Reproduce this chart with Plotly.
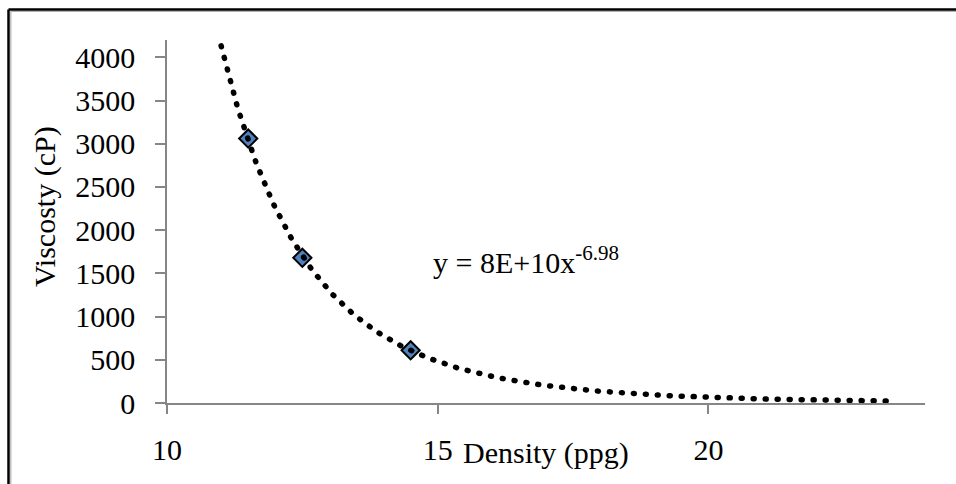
import numpy as np
import plotly.graph_objects as go

# ---- data ----
density = [11.5, 12.5, 14.5]          # ppg
viscosity = [3060, 1680, 610]         # cP
trend_start, trend_end = 11.0, 23.35  # extent of the trendline (ppg)
equation_label = "y = 8E+10x<sup>-6.98</sup>"
x_ticks = [10, 15, 20]
y_ticks = [0, 500, 1000, 1500, 2000, 2500, 3000, 3500, 4000]

# power-law trendline fitted to the data (log-log least squares, as Excel does)
slope, intercept = np.polyfit(np.log(density), np.log(viscosity), 1)
tx = np.linspace(trend_start, trend_end, 300)
ty = np.exp(intercept) * tx ** slope

FONT = "Liberation Serif, Times New Roman, serif"
FS = 30
AX = "#868686"

fig = go.Figure()
fig.add_trace(go.Scatter(
    x=density, y=viscosity, mode="markers",
    marker=dict(symbol="diamond", size=14, color="#4F81BD",
                line=dict(color="black", width=2)),
    showlegend=False, hoverinfo="x+y"))
fig.add_trace(go.Scatter(
    x=tx, y=ty, mode="lines",
    line=dict(color="black", width=5.5, dash="1px,11px"),
    showlegend=False, hoverinfo="skip"))

fig.add_annotation(x=14.88, y=1652, xref="x", yref="y", text=equation_label,
                   showarrow=False, xanchor="left", yanchor="middle",
                   font=dict(family=FONT, size=FS, color="black"))

L, R, T, B = 167, 31, 40, 81
W, H = 956, 484
pw, ph = W - L - R, H - T - B

# axis titles
fig.add_annotation(x=0.5, y=(T + ph - 434) / ph, xref="paper", yref="paper",
                   text="Density (ppg)", showarrow=False,
                   xanchor="center", yanchor="top",
                   font=dict(family=FONT, size=FS, color="black"))
fig.add_annotation(x=(45 - L) / pw, y=(T + ph - 207) / ph, xref="paper", yref="paper",
                   text="Viscosty (cP)", showarrow=False, textangle=-90,
                   xanchor="center", yanchor="middle",
                   font=dict(family=FONT, size=FS, color="black"))

# chart-area border (top and left edges visible), with a faint inner shadow
bx = (8.5 - L) / pw
by = (T + ph - 9.5) / ph
sx = (10.8 - L) / pw
sy = (T + ph - 11.3) / ph
fig.add_shape(type="line", xref="paper", yref="paper", x0=sx, x1=1.2, y0=sy, y1=sy,
              line=dict(color="#b0b0b0", width=1.2))
fig.add_shape(type="line", xref="paper", yref="paper", x0=sx, x1=sx, y0=sy, y1=-0.3,
              line=dict(color="#b0b0b0", width=1.2))
fig.add_shape(type="line", xref="paper", yref="paper", x0=bx, x1=1.2, y0=by, y1=by,
              line=dict(color="black", width=2.5))
fig.add_shape(type="line", xref="paper", yref="paper", x0=bx, x1=bx, y0=by, y1=-0.3,
              line=dict(color="black", width=2.5))

fig.update_xaxes(range=[10, 24], tickvals=x_ticks, showline=True, linecolor=AX,
                 linewidth=1.6, ticks="outside", ticklen=9, tickwidth=1.6, tickcolor=AX,
                 showgrid=False, zeroline=False, ticklabelstandoff=10,
                 tickfont=dict(family=FONT, size=FS, color="black"))
fig.update_yaxes(range=[0, 4200], tickvals=y_ticks, showline=True, linecolor=AX,
                 linewidth=1.6, ticks="outside", ticklen=10, tickwidth=1.6, tickcolor=AX,
                 showgrid=False, zeroline=False, ticklabelstandoff=14,
                 tickfont=dict(family=FONT, size=FS, color="black"))

fig.update_layout(width=W, height=H, margin=dict(l=L, r=R, t=T, b=B, autoexpand=False),
                  paper_bgcolor="white", plot_bgcolor="white",
                  font=dict(family=FONT, color="black"))

post = """
document.querySelectorAll('.scatterlayer .js-line').forEach(function(p){
  p.style.strokeLinecap='round';
});
"""
fig.write_html("out.html", post_script=post)
